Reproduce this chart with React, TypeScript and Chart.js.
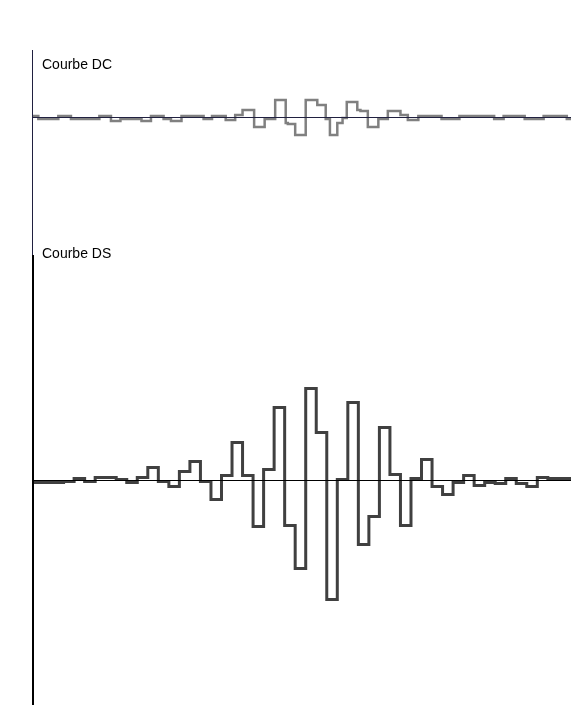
import React, { useEffect, useRef } from 'react';
import Chart from 'chart.js/auto';

// time axis in samples, both curves share it
const X_MAX = 51.2;

// Courbe DC: step start times and levels
const dcTimes = [0, 0.6, 2.5, 3.7, 6.4, 7.5, 8.4, 10.4, 11.3, 12.5, 13.2, 14.2, 16.3, 17.1, 18.4, 19.3, 20.0, 21.1, 22.1, 23.1, 24.1, 24.3, 25.0, 26.0, 27.1, 27.9, 28.3, 29.0, 29.5, 29.9, 30.9, 31.2, 31.9, 32.9, 33.8, 35.0, 35.7, 36.7, 38.9, 40.6, 43.9, 44.8, 46.8, 48.6, 50.8];
const dcValues = [2, -1, 2, -1, 2, -3, -1, -3, 2, -1, -3, 2, -1, 2, -2, 3, 8, -9, -1, 18, -5, -6, -17, 18, 13, -1, -17, -5, 0, 16, 8, 7, -9, -1, 7, 3, -2, 2, -1, 2, -1, 2, -1, 2, -1];

// Courbe DS: one level per sample
const dsValues = [-2, -2, -2, -1, 2, -1, 3, 3, 1, -2, 3, 13, -1, -6, 9, 19, -1, -19, 5, 38, 5, -46, 11, 73, -45, -88, 92, 48, -119, 1, 78, -64, -36, 53, 6, -45, 2, 21, -6, -14, -2, 5, -5, -2, -3, 2, -3, -6, 3, 2, 2, 2];
const dsTimes = dsValues.map((_, i) => i);

const toPoints = (xs: number[], ys: number[]) => [
  ...xs.map((x, i) => ({ x, y: ys[i] })),
  { x: X_MAX + 1, y: ys[ys.length - 1] },
];

const axesPlugin = (color: string, axisWidth: number) => ({
  id: 'axes',
  afterDatasetsDraw(chart: any) {
    const { ctx, chartArea } = chart;
    const y0 = chart.scales.y.getPixelForValue(0);
    ctx.save();
    ctx.fillStyle = color;
    ctx.fillRect(chartArea.left, Math.floor(y0), chartArea.right - chartArea.left, 1);
    ctx.fillRect(chartArea.left, chartArea.top, axisWidth, chartArea.bottom - chartArea.top);
    ctx.restore();
  },
});

const makeConfig = (points: any[], lineColor: string, lineWidth: number, yMin: number, yMax: number, axisColor: string, axisWidth: number): any => ({
  type: 'line',
  data: {
    datasets: [
      {
        data: points,
        borderColor: lineColor,
        borderWidth: lineWidth,
        // level holds from its start time until the next one
        stepped: 'before',
        pointRadius: 0,
        fill: false,
        tension: 0,
        borderJoinStyle: 'miter',
        borderCapStyle: 'butt',
      },
    ],
  },
  options: {
    animation: false,
    responsive: false,
    events: [],
    layout: { padding: 0 },
    plugins: { legend: { display: false }, tooltip: { enabled: false } },
    scales: {
      x: { type: 'linear', min: 0, max: X_MAX, display: false },
      y: { min: yMin, max: yMax, display: false },
    },
  },
  plugins: [axesPlugin(axisColor, axisWidth)],
});

export default function App() {
  const dcRef = useRef<HTMLCanvasElement>(null);
  const dsRef = useRef<HTMLCanvasElement>(null);

  useEffect(() => {
    const charts: Chart[] = [];
    if (dcRef.current) {
      charts.push(new Chart(dcRef.current, makeConfig(toPoints(dcTimes, dcValues), '#808080', 2.5, -137, 68, '#202040', 1)));
    }
    if (dsRef.current) {
      charts.push(new Chart(dsRef.current, makeConfig(toPoints(dsTimes, dsValues), '#404040', 3, -224.5, 225.5, '#000000', 2)));
    }
    return () => charts.forEach((c) => c.destroy());
  }, []);

  const label: React.CSSProperties = {
    position: 'absolute',
    left: 42,
    fontSize: 14,
    lineHeight: '14px',
    color: '#000',
    whiteSpace: 'nowrap',
  };

  return (
    <div style={{ position: 'absolute', left: 0, top: 0, width: 571, height: 717, background: '#fff', fontFamily: '"Liberation Sans", Arial, sans-serif' }}>
      <canvas ref={dcRef} width={539} height={205} style={{ position: 'absolute', left: 32, top: 50, width: 539, height: 205 }} />
      <canvas ref={dsRef} width={539} height={450} style={{ position: 'absolute', left: 32, top: 255, width: 539, height: 450 }} />
      <div style={{ ...label, top: 57 }}>Courbe DC</div>
      <div style={{ ...label, top: 246 }}>Courbe DS</div>
    </div>
  );
}
